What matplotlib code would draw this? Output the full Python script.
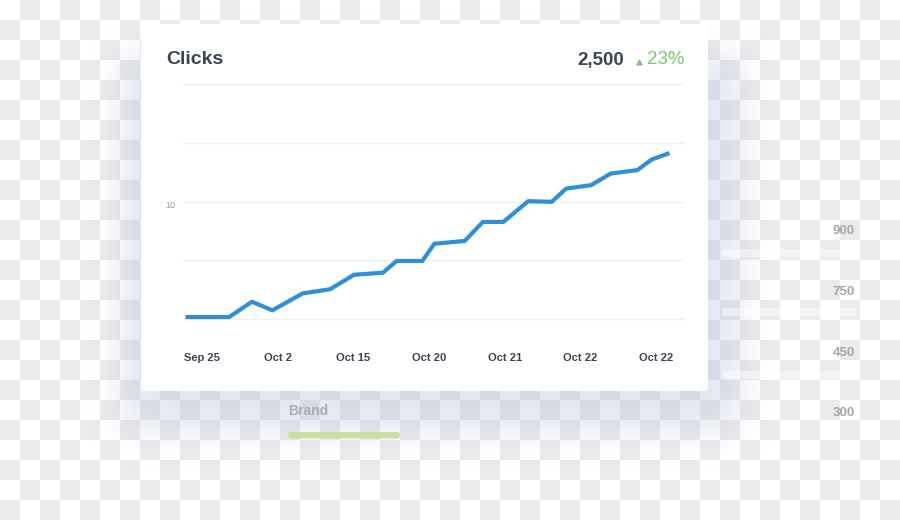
import numpy as np
import matplotlib.pyplot as plt
from matplotlib.patches import FancyBboxPatch

plt.rcParams['font.family'] = ['Liberation Sans', 'DejaVu Sans']

# chart data
x_labels = ['Sep 25', 'Oct 2', 'Oct 15', 'Oct 20', 'Oct 21', 'Oct 22', 'Oct 22']
clicks_x = [-0.19, 0.36, 0.66, 0.93, 1.33, 1.69, 2.01, 2.39, 2.57, 2.91, 3.07,
            3.47, 3.71, 3.98, 4.31, 4.62, 4.81, 5.14, 5.40, 5.75, 5.94, 6.15]
clicks_y = [0.17, 0.17, 1.47, 0.74, 2.18, 2.53, 3.77, 3.94, 4.94, 4.94, 6.41,
            6.64, 8.26, 8.26, 10.03, 9.97, 11.10, 11.39, 12.38, 12.67, 13.57, 14.06]
y_grid = [0, 5, 10, 15, 20]
y_grid_labels = ['', '', '10', '', '']
total = '2,500'
change = '23%'
side_values = ['900', '750', '450', '300']
side_y = [231, 292, 353, 413]

fig = plt.figure(figsize=(9, 5.2), dpi=100)

# background: transparency checkerboard + soft card shadow
bg = fig.add_axes([0, 0, 1, 1])
bg.set_xlim(0, 900)
bg.set_ylim(520, 0)
bg.axis('off')

yy, xx = np.mgrid[0:520, 0:900]
odd = ((xx // 20 + yy // 20) % 2 == 1)[..., None]
board = np.where(odd, np.array([0.925, 0.925, 0.925]), np.array([1.0, 1.0, 1.0]))
bg.imshow(board, extent=(0, 900, 520, 0), aspect='auto', interpolation='nearest', zorder=0)


def blur(m, sigma):
    k = np.arange(-3 * sigma, 3 * sigma + 1)
    k = np.exp(-0.5 * (k / sigma) ** 2)
    k /= k.sum()
    m = np.apply_along_axis(lambda r: np.convolve(r, k, mode='same'), 1, m)
    m = np.apply_along_axis(lambda c: np.convolve(c, k, mode='same'), 0, m)
    return m


mask = np.zeros((520, 900))
mask[55:430, 122:740] = 1.0
sh = blur(mask, 18)
shadow = np.zeros((520, 900, 4))
shadow[..., 0] = 0.70
shadow[..., 1] = 0.74
shadow[..., 2] = 0.86
shadow[..., 3] = 0.36 * sh
bg.imshow(shadow, extent=(0, 900, 520, 0), aspect='auto', interpolation='bilinear', zorder=1)

# faint bars behind the right-hand numbers
for yb in [253, 312, 375]:
    bg.add_patch(FancyBboxPatch((722, yb - 4), 135, 8, boxstyle='round,pad=0,rounding_size=4',
                                fc='white', ec='none', alpha=0.45, zorder=1.5))

# card
bg.add_patch(FancyBboxPatch((141, 24), 567, 367, boxstyle='round,pad=0,rounding_size=4',
                            fc='white', ec='none', zorder=2))

bg.text(166, 60, 'Clicks', fontsize=14, fontweight='bold', color='#3d4450',
        ha='left', va='center', zorder=3)
bg.text(624, 60, total, fontsize=13.5, fontweight='bold', color='#3d4450',
        ha='right', va='center', zorder=3)
bg.plot([639], [62], marker='^', ms=3.5, color='#7cc76a', ls='none', zorder=3)
bg.text(684, 60, change, fontsize=13.5, color='#7cc76a',
        ha='right', va='center', zorder=3)

for v, yv in zip(side_values, side_y):
    bg.text(855, yv, v, fontsize=9.5, fontweight='bold', color='#a3a6ab',
            ha='right', va='center', zorder=3)

bg.text(288, 411, 'Brand', fontsize=10, fontweight='bold', color='#a9adb5',
        ha='left', va='center', zorder=3)
bg.add_patch(FancyBboxPatch((288, 432), 112, 6.5, boxstyle='round,pad=0,rounding_size=3.2',
                            fc='#cde0a2', ec='none', zorder=3))

# line chart
ax = fig.add_axes([182 / 900, 1 - 324.9 / 520, 501 / 900, 246.8 / 520])
ax.patch.set_alpha(0)
ax.set_xlim(-0.264, 6.354)
ax.set_ylim(-0.5, 20.5)
ax.hlines(y_grid, -0.264, 6.354, color='#edf1f7', lw=1, zorder=1)
ax.plot(clicks_x, clicks_y, color='#2f8fd8', lw=3, zorder=3)

for s in ax.spines.values():
    s.set_visible(False)
ax.set_xticks(range(len(x_labels)))
ax.set_xticklabels(x_labels, fontsize=8, fontweight='bold', color='#3d4450')
ax.set_yticks(y_grid)
ax.set_yticklabels(y_grid_labels, fontsize=6.5, color='#9aa0a8', va='top')
ax.tick_params(axis='x', length=0, pad=20.5)
ax.tick_params(axis='y', length=0, pad=5)

fig.savefig('out.png', dpi=100)
